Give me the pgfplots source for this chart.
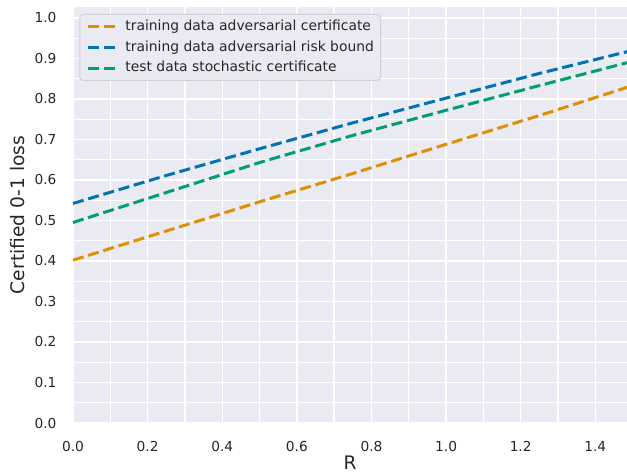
\documentclass[border=0pt]{standalone}
\usepackage{fontspec}
\setmainfont{DejaVu Sans}
\usepackage{pgfplots}
\pgfplotsset{compat=1.18}
\definecolor{sbbg}{HTML}{EAEAF2}
\definecolor{sbtext}{HTML}{262626}
\definecolor{cor}{HTML}{DE8F05}
\definecolor{cbl}{HTML}{0173B2}
\definecolor{cgr}{HTML}{029E73}
\begin{document}
\begin{tikzpicture}
\useasboundingbox (-54.75pt,-38.25pt) rectangle (415.5pt,317.25pt);
\begin{axis}[
  at={(0pt,0pt)}, anchor=south west,
  scale only axis, width=415.5pt, height=312pt,
  xmin=0, xmax=1.485, ymin=0, ymax=1.027,
  xtick={0,0.2,0.4,0.6,0.8,1.0,1.2,1.4},
  minor xtick={0.1,0.3,0.5,0.7,0.9,1.1,1.3},
  ytick={0,0.1,0.2,0.3,0.4,0.5,0.6,0.7,0.8,0.9,1.0},
  minor ytick={0.05,0.15,0.25,0.35,0.45,0.55,0.65,0.75,0.85,0.95},
  grid=both,
  major grid style={white, line width=1pt},
  minor grid style={white, line width=1pt},
  major tick length=0pt, minor tick length=0pt,
  axis line style={draw=none},
  axis background/.style={fill=sbbg},
  /pgf/number format/assume math mode=true,
  /pgf/number format/.cd, fixed, fixed zerofill, precision=1, /pgfplots/.cd,
  tick label style={font=\fontsize{10.3}{12}\selectfont, text=sbtext, inner sep=0pt},
  xticklabel style={anchor=north, yshift=-13.3pt},
  yticklabel style={anchor=east, xshift=-12.2pt},
  xlabel={R}, ylabel={Certified 0-1 loss},
  label style={font=\fontsize{14}{16}\selectfont, text=sbtext, inner sep=0pt},
  xlabel style={at={(axis description cs:0.5,-0.078)}, anchor=north},
  ylabel style={at={(axis description cs:-0.0866,0.5)}, anchor=south},
  legend image code/.code={\draw[#1] (0pt,0pt) -- (21pt,0pt);},
  legend cell align=left,
  legend style={at={(axis description cs:0.0113,0.9832)}, anchor=north west,
    fill=sbbg, draw=black!18, rounded corners=2.5pt, line width=0.75pt,
    inner xsep=5pt, inner ysep=4.25pt, column sep=6pt, row sep=5.8pt,
    font=\fontsize{10.4}{12}\selectfont, text=sbtext,
    nodes={inner sep=0pt, text height=7.6pt, text depth=2.2pt, anchor=west}},
]
\addplot[cor, line width=2.25pt, dash pattern=on 8.3pt off 3.6pt] coordinates {
  (0,0.402) (0.25,0.474) (0.5,0.546) (0.75,0.616) (1.0,0.688) (1.25,0.759) (1.5,0.833)};
\addlegendentry{training data adversarial certificate}
\addplot[cbl, line width=2.25pt, dash pattern=on 8.3pt off 3.6pt] coordinates {
  (0,0.542) (0.25,0.611) (0.5,0.677) (0.75,0.741) (1.0,0.802) (1.25,0.863) (1.5,0.920)};
\addlegendentry{training data adversarial risk bound}
\addplot[cgr, line width=2.25pt, dash pattern=on 8.3pt off 3.6pt] coordinates {
  (0,0.495) (0.25,0.569) (0.5,0.643) (0.75,0.710) (1.0,0.772) (1.25,0.833) (1.5,0.893)};
\addlegendentry{test data stochastic certificate}
\end{axis}
\end{tikzpicture}
\end{document}
